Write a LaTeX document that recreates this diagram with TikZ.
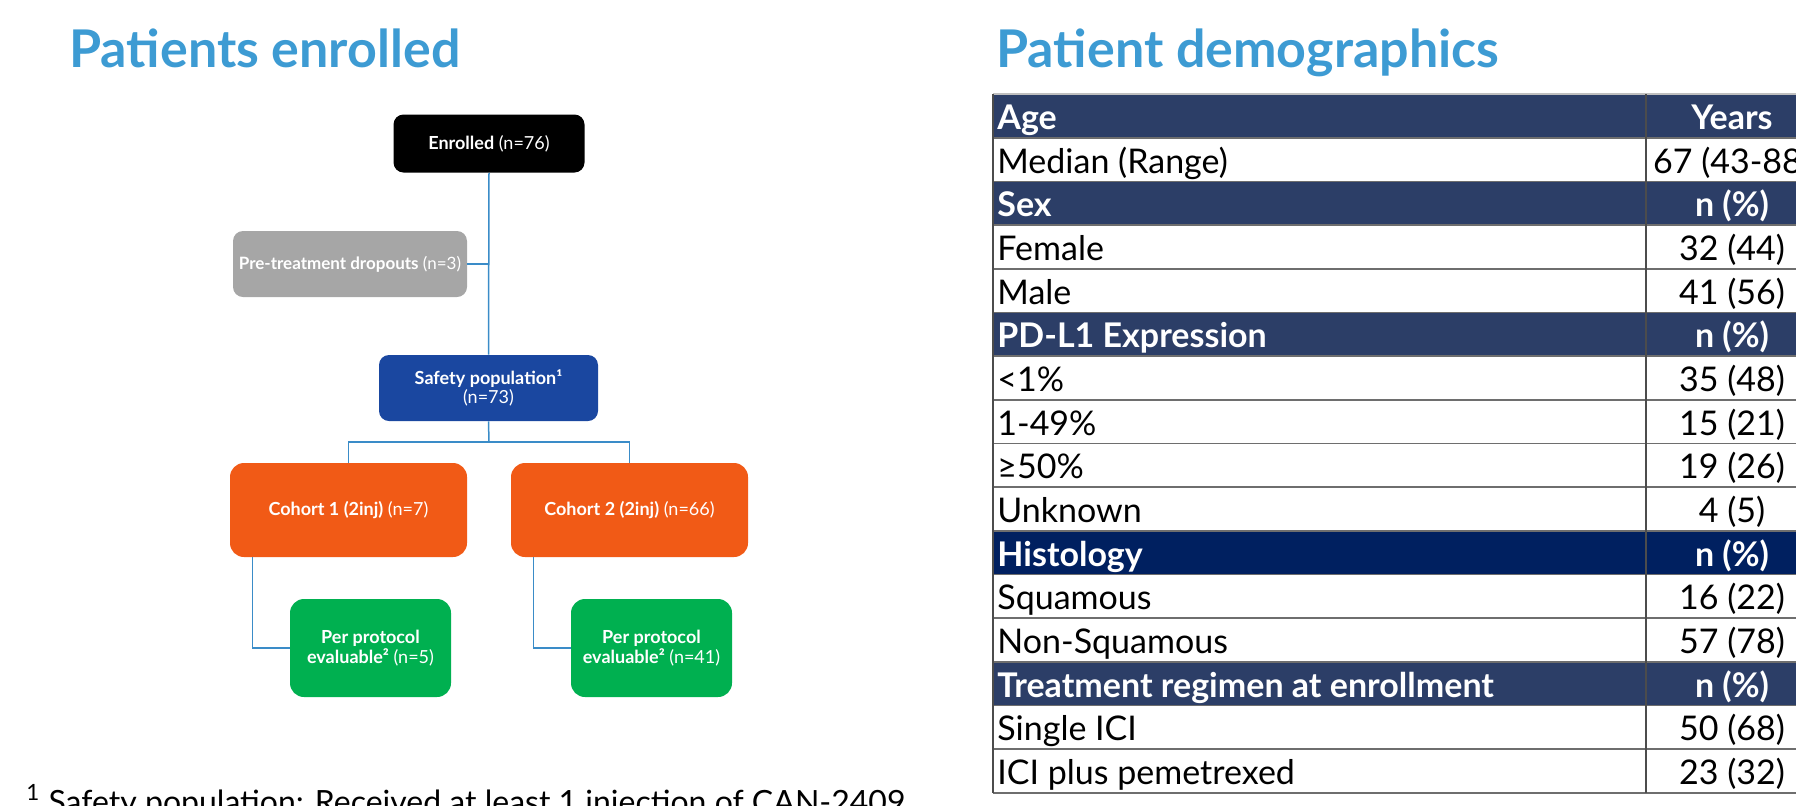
\documentclass[tikz,border=0pt]{standalone}
\usepackage{fontspec}
\setmainfont{Lato}
\usepackage{xcolor}

\definecolor{titleblue}{HTML}{3D9BD3}
\definecolor{linkblue}{HTML}{3A8CC8}
\definecolor{navy}{HTML}{2C3E67}
\definecolor{darknavy}{HTML}{002060}
\definecolor{safetyblue}{HTML}{1A47A0}
\definecolor{cohortorange}{HTML}{F15A16}
\definecolor{ppgreen}{HTML}{00B050}
\definecolor{dropgray}{HTML}{A6A6A6}
\definecolor{rulegray}{HTML}{6E6E6E}

\tikzset{
  heading/.style={anchor=base west, text=titleblue, inner sep=0pt, font=\fontsize{26}{31}\selectfont\bfseries},
  box/.style={rounded corners=5pt, text=white, align=center, inner sep=0pt, font=\fontsize{9}{9.8}\selectfont},
  link/.style={draw=linkblue, line width=0.75pt},
  cell/.style={anchor=base west, inner sep=0pt, font=\fontsize{17}{20}\selectfont},
  val/.style={anchor=base, inner sep=0pt, font=\fontsize{17}{20}\selectfont},
  rowrule/.style={draw=rulegray, line width=0.75pt}
}

\begin{document}
\begin{tikzpicture}[x=0.5pt, y=-0.5pt]
        \useasboundingbox (0,0) rectangle (1796,805);

        \node[heading] (enrtitle) at (69,67) {Patients enrolled};
        \node[heading] (demotitle) at (996,67) {Patient demographics};

        % flow chart
        \node[box, fill=black, minimum width=95.5pt, minimum height=29pt] (enrolled) at (489,143.5) {\textbf{Enrolled} (n=76)};
        \node[box, fill=dropgray, minimum width=117pt, minimum height=33pt, font=\fontsize{8.5}{9.8}\selectfont] (dropout) at (350,264) {\textbf{Pre-treatment dropouts} (n=3)};
        \node[box, fill=safetyblue, minimum width=109.5pt, minimum height=33pt] (safety) at (488.5,388) {\textbf{Safety population¹}\\(n=73)};
        \node[box, fill=cohortorange, rounded corners=7pt, minimum width=118.5pt, minimum height=47pt] (cohort1) at (348.5,510) {\textbf{Cohort 1 (2inj)} (n=7)};
        \node[box, fill=cohortorange, rounded corners=7pt, minimum width=118.5pt, minimum height=47pt] (cohort2) at (629.5,510) {\textbf{Cohort 2 (2inj)} (n=66)};
        \node[box, fill=ppgreen, rounded corners=7pt, minimum width=80.5pt, minimum height=49pt] (pp1) at (370.5,648) {\textbf{Per protocol}\\\textbf{evaluable²} (n=5)};
        \node[box, fill=ppgreen, rounded corners=7pt, minimum width=80.5pt, minimum height=49pt] (pp2) at (651.5,648) {\textbf{Per protocol}\\\textbf{evaluable²} (n=41)};
        \coordinate (split) at (489,442);

        \draw[link] (enrolled.south) -- (safety.north);
        \draw[link] (dropout.east) -- (dropout.east -| enrolled.south);
        \draw[link] (safety.south) -- (split);
        \draw[link] (split) -| (cohort1.north);
        \draw[link] (split) -| (cohort2.north);
        \draw[link] ([xshift=11.5pt]cohort1.south west) |- (pp1.west);
        \draw[link] ([xshift=11.5pt]cohort2.south west) |- (pp2.west);

        \node[anchor=base west, inner sep=0pt, font=\fontsize{16}{19}\selectfont] (foot) at (26,813) {\textsuperscript{1} Safety population: Received at least 1 injection of CAN-2409};

        % table
        \fill[navy] (993,94) rectangle (1820,138);
        \fill[navy] (993,181.5) rectangle (1820,225);
        \fill[navy] (993,312.5) rectangle (1820,356);
        \fill[darknavy] (993,531) rectangle (1820,574.5);
        \fill[navy] (993,662) rectangle (1820,705.5);
        \draw[draw=black!25, line width=0.75pt] (993,94) -- (1820,94);
        \draw[rowrule] (993,138) -- (1820,138) (993,181.5) -- (1820,181.5) (993,225) -- (1820,225)
          (993,269) -- (1820,269) (993,312.5) -- (1820,312.5) (993,356) -- (1820,356)
          (993,400) -- (1820,400) (993,443.5) -- (1820,443.5) (993,487) -- (1820,487)
          (993,531) -- (1820,531) (993,574.5) -- (1820,574.5) (993,618) -- (1820,618)
          (993,662) -- (1820,662) (993,705.5) -- (1820,705.5) (993,749) -- (1820,749)
          (993,793) -- (1820,793);
        \draw[rowrule, draw=black!70] (993,94) -- (993,793);
        \draw[rowrule, draw=black!70] (1646,94) -- (1646,793);

        \node[cell, text=white] (age) at (997,129) {\bfseries Age};
        \node[val, text=white] (agev) at (1732,129) {\bfseries Years};
        \node[cell] (median) at (997,173) {Median (Range)};
        \node[val] (medianv) at (1732,173) {67 (43-88)};
        \node[cell, text=white] (sex) at (997,216.5) {\bfseries Sex};
        \node[val, text=white] (sexv) at (1732,216.5) {\bfseries n (\%)};
        \node[cell] (female) at (997,260) {Female};
        \node[val] (femalev) at (1732,260) {32 (44)};
        \node[cell] (male) at (997,304) {Male};
        \node[val] (malev) at (1732,304) {41 (56)};
        \node[cell, text=white] (pdl) at (997,347.5) {\bfseries PD-L1 Expression};
        \node[val, text=white] (pdlv) at (1732,347.5) {\bfseries n (\%)};
        \node[cell] (lt) at (997,391) {<1\%};
        \node[val] (ltv) at (1732,391) {35 (48)};
        \node[cell] (mid) at (997,435) {1-49\%};
        \node[val] (midv) at (1732,435) {15 (21)};
        \node[cell] (ge) at (997,478.5) {≥50\%};
        \node[val] (gev) at (1732,478.5) {19 (26)};
        \node[cell] (unk) at (997,522) {Unknown};
        \node[val] (unkv) at (1732,522) {4 (5)};
        \node[cell, text=white] (hist) at (997,566) {\bfseries Histology};
        \node[val, text=white] (histv) at (1732,566) {\bfseries n (\%)};
        \node[cell] (squam) at (997,609.5) {Squamous};
        \node[val] (squamv) at (1732,609.5) {16 (22)};
        \node[cell] (nonsq) at (997,653) {Non-Squamous};
        \node[val] (nonsqv) at (1732,653) {57 (78)};
        \node[cell, text=white] (treat) at (997,697) {\bfseries Treatment regimen at enrollment};
        \node[val, text=white] (treatv) at (1732,697) {\bfseries n (\%)};
        \node[cell] (single) at (997,740.5) {Single ICI};
        \node[val] (singlev) at (1732,740.5) {50 (68)};
        \node[cell] (pem) at (997,784) {ICI plus pemetrexed};
        \node[val] (pemv) at (1732,784) {23 (32)};
        \end{tikzpicture}
\end{document}
